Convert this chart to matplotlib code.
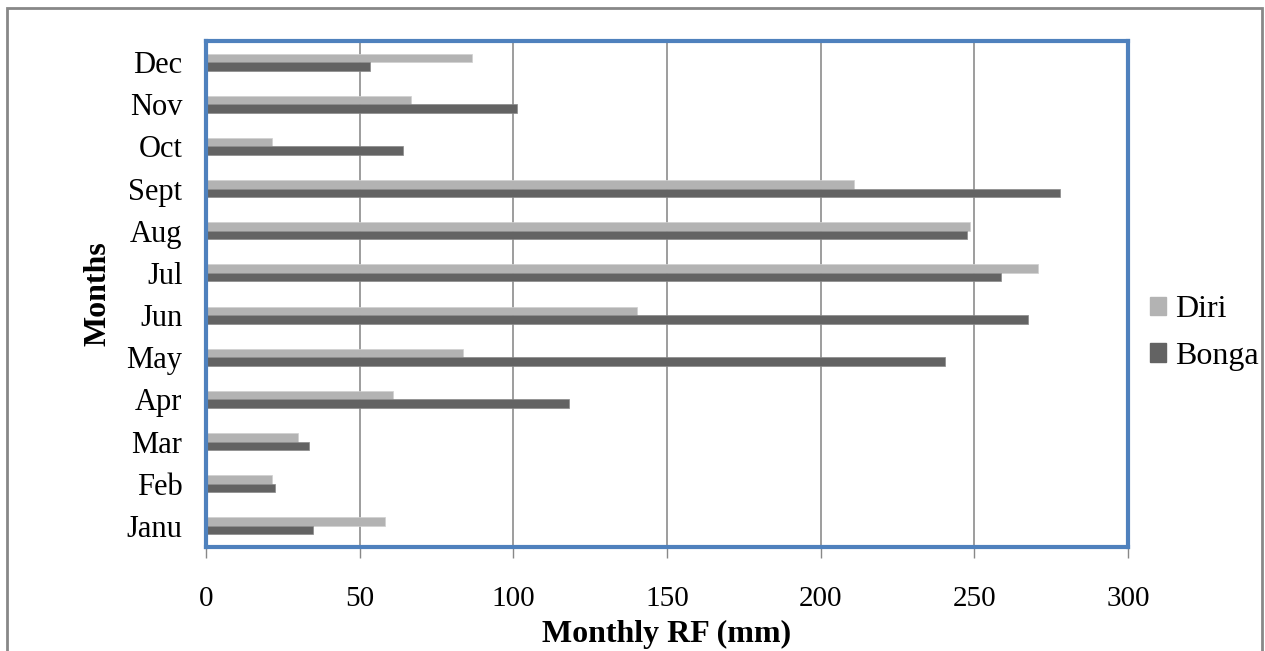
import matplotlib
matplotlib.use("Agg")
import matplotlib.pyplot as plt
from matplotlib.patches import Rectangle, Patch
import numpy as np

months = ["Janu", "Feb", "Mar", "Apr", "May", "Jun", "Jul", "Aug", "Sept", "Oct", "Nov", "Dec"]
diri = [58.3, 21.4, 29.8, 60.8, 83.7, 140.2, 270.7, 248.6, 210.9, 21.4, 66.6, 86.7]
bonga = [34.9, 22.3, 33.6, 118.1, 240.5, 267.5, 258.7, 247.6, 277.9, 64.1, 101.3, 53.3]
xticks = [0, 50, 100, 150, 200, 250, 300]

plt.rcParams['font.family'] = ['Liberation Serif', 'DejaVu Serif']

W, H = 1265, 651
fig = plt.figure(figsize=(W / 100, H / 100), dpi=100)
ax = fig.add_axes([206 / W, 1 - 547 / H, (1128 - 206) / W, (547 - 41) / H])

y = np.arange(len(months))
h = 0.2
ax.barh(y + h / 2, diri, height=h, color="#B3B3B3", edgecolor="#D0D0D0", linewidth=0.5, label="Diri", zorder=3)
ax.barh(y - h / 2, bonga, height=h, color="#636363", edgecolor="#8A8A8A", linewidth=0.5, label="Bonga", zorder=3)

ax.set_xlim(0, 300)
ax.set_ylim(-0.5, 11.5)
ax.set_xticks(xticks)
ax.set_xticklabels([str(v) for v in xticks], fontsize=21)
ax.set_yticks(y)
ax.set_yticklabels(months, fontsize=22)
ax.tick_params(axis='x', length=8, color="#888888", pad=20, width=1)
ax.tick_params(axis='y', length=0, pad=17)
ax.xaxis.grid(True, color="#8C8C8C", linewidth=1.2, zorder=0)
ax.set_axisbelow(True)
for s in ax.spines.values():
    s.set_color("#4F81BD")
    s.set_linewidth(3)
    s.set_zorder(4)

ax.set_xlabel("Monthly RF (mm)", fontsize=23, fontweight="bold", labelpad=6)
ax.set_ylabel("Months", fontsize=23, fontweight="bold", labelpad=10)

handles = [Patch(facecolor="#B3B3B3", edgecolor="#B3B3B3", label="Diri"),
           Patch(facecolor="#636363", edgecolor="#636363", label="Bonga")]
fig.legend(handles=handles, loc="center left", bbox_to_anchor=(1150 / W, 1 - 333 / H),
           frameon=False, fontsize=23, handlelength=0.5, handleheight=0.5,
           handletextpad=0.3, labelspacing=0.55, borderpad=0, borderaxespad=0)

fig.patches.append(Rectangle((7 / W, -0.05), (1262 - 7) / W, (1 - 8 / H) + 0.05,
                             transform=fig.transFigure, fill=False, edgecolor="#888888",
                             linewidth=2, zorder=0))

fig.savefig("out.png", dpi=100)
